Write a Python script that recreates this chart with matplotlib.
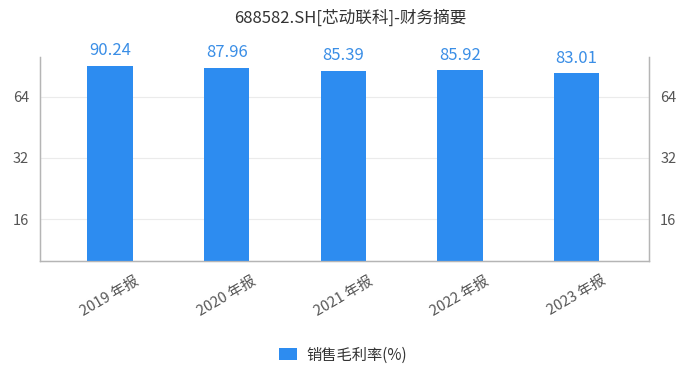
import matplotlib
matplotlib.use('Agg')
import matplotlib.pyplot as plt
from matplotlib.ticker import FixedLocator, NullLocator

plt.rcParams['font.family'] = ['Noto Sans CJK SC', 'DejaVu Sans']

# data
years = ['2019 年报', '2020 年报', '2021 年报', '2022 年报', '2023 年报']
gross_margin = [90.24, 87.96, 85.39, 85.92, 83.01]
yticks = [16, 32, 64]

bar_color = '#2d8cf0'
label_color = '#3a8ee6'
text_gray = '#555555'
axis_gray = '#b5b5b5'

fig = plt.figure(figsize=(7, 3.77), dpi=100)
ax = fig.add_axes([40 / 700, 1 - 261 / 377, 609 / 700, 204 / 377])

x = range(len(years))
bars = ax.bar(x, gross_margin, width=0.39, color=bar_color, label='销售毛利率(%)', zorder=3)

for xi, v in zip(x, gross_margin):
    ax.annotate(f'{v:.2f}', (xi, v), xytext=(0, 5), textcoords='offset points',
                ha='center', va='bottom', fontsize=12, color=label_color)

ax.set_yscale('log', base=2)
ax.set_ylim(10, 100)
ax.set_xlim(-0.6, 4.62)
ax.yaxis.set_major_locator(FixedLocator(yticks))
ax.yaxis.set_minor_locator(NullLocator())
ax.set_yticklabels([str(t) for t in yticks])
ax.grid(axis='y', color='#ebebeb', linewidth=0.8, zorder=0)

ax.set_xticks(list(x))
ax.set_xticklabels(years, rotation=30, ha='center', fontsize=10.5, color=text_gray)
ax.tick_params(axis='x', length=0, pad=9)
ax.tick_params(axis='y', length=0, pad=8, labelsize=10.5, labelcolor=text_gray)

ax2 = ax.twinx()
ax2.set_yscale('log', base=2)
ax2.set_ylim(ax.get_ylim())
ax2.yaxis.set_major_locator(FixedLocator(yticks))
ax2.yaxis.set_minor_locator(NullLocator())
ax2.set_yticklabels([str(t) for t in yticks])
ax2.tick_params(axis='y', length=0, pad=8, labelsize=10.5, labelcolor=text_gray)

for a in (ax, ax2):
    a.spines['top'].set_visible(False)
    for s in ('left', 'right', 'bottom'):
        a.spines[s].set_color(axis_gray)
        a.spines[s].set_linewidth(0.9)

fig.text(0.5, 1 - 18 / 377, '688582.SH[芯动联科]-财务摘要', ha='center', va='center',
         fontsize=12, color='#333333')

fig.legend(handles=[bars], loc='center', bbox_to_anchor=(0.49, 1 - 355 / 377),
           frameon=False, fontsize=11, handlelength=1.2, handleheight=0.8,
           handletextpad=0.6, labelcolor='#333333')

fig.savefig('out.png', dpi=100)
